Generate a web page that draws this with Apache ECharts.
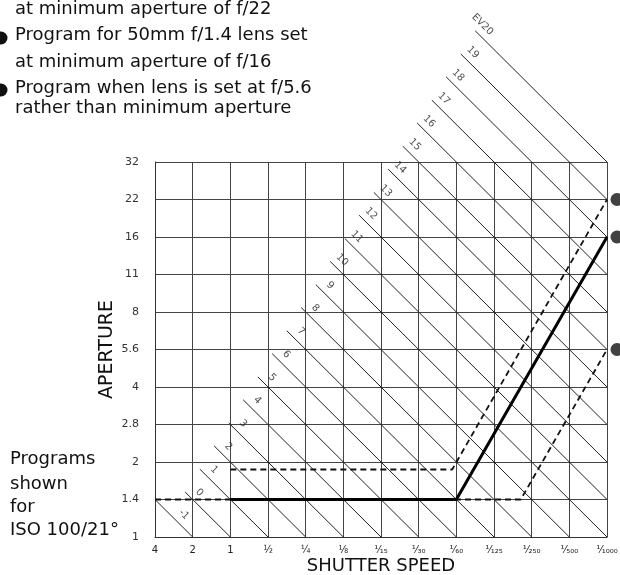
<!DOCTYPE html>
<html>
<head>
<meta charset="utf-8">
<script src="https://cdn.jsdelivr.net/npm/echarts@6/dist/echarts.min.js"></script>
<style>
  html, body { margin: 0; padding: 0; background: #fff; }
  #chart { width: 620px; height: 575px; }
</style>
</head>
<body>
<div id="chart"></div>
<script>
// shutter speeds (x) and f-stops (y), one grid step = one stop
var shutterTicks = ['4', '2', '1', '½', '¼', '⅛', '¹⁄₁₅', '¹⁄₃₀', '¹⁄₆₀', '¹⁄₁₂₅', '¹⁄₂₅₀', '¹⁄₅₀₀', '¹⁄₁₀₀₀'];
var apertureTicks = ['1', '1.4', '2', '2.8', '4', '5.6', '8', '11', '16', '22', '32'];

// EV lines (x = shutter step, y = aperture step)
var evNames  = ['-1', '0', '1', '2', '3', '4', '5', '6', '7', '8', '9', '10',
                '11', '12', '13', '14', '15', '16', '17', '18', '19', 'EV20'];
var evStartX = [0, 0.80, 1.19, 1.57, 1.96, 2.34, 2.73, 3.11, 3.50, 3.88, 4.27, 4.65,
                5.04, 5.42, 5.81, 6.19, 6.58, 6.96, 7.35, 7.73, 8.12, 8.50];
var evStartY = [1, 1.20, 1.81, 2.43, 3.04, 3.66, 4.27, 4.89, 5.50, 6.12, 6.73, 7.35,
                7.96, 8.58, 9.19, 9.81, 10.42, 11.04, 11.65, 12.27, 12.88, 13.50];
var evEndX   = [1, 2, 3, 4, 5, 6, 7, 8, 9, 10, 11, 12,
                12, 12, 12, 12, 12, 12, 12, 12, 12, 12];
var evEndY   = [0, 0, 0, 0, 0, 0, 0, 0, 0, 0, 0, 0,
                1, 2, 3, 4, 5, 6, 7, 8, 9, 10];
var evLabelX = [0.42, 0.80, 1.19, 1.57, 1.96, 2.34, 2.73, 3.11, 3.50, 3.88, 4.27, 4.65,
                5.04, 5.42, 5.81, 6.19, 6.58, 6.96, 7.35, 7.73, 8.12, 8.50];
var evLabelY = [0.58, 1.20, 1.81, 2.43, 3.04, 3.66, 4.27, 4.89, 5.50, 6.12, 6.73, 7.35,
                7.96, 8.58, 9.19, 9.81, 10.42, 11.04, 11.65, 12.27, 12.88, 13.50];

// programs
var progA = [[2, 1.8], [7.89, 1.8], [12, 9]];   // f/22, dashed
var progB = [[2, 1], [8, 1], [12, 8]];          // 50mm f/1.4 at f/16, solid
var progC = [[0, 1], [9.71, 1], [12, 5]];       // set at f/5.6, dashed
var progMarks = [[12, 9, 'a'], [12, 8, 'b'], [12, 5, 'c']];

var FONT = 'DejaVu Sans';

var series = [];
for (var i = 0; i < evNames.length; i++) {
    series.push({
        type: 'line',
        data: [[evStartX[i], evStartY[i]], [evEndX[i], evEndY[i]]],
        symbol: 'none',
        clip: false,
        silent: true,
        lineStyle: { color: '#222', width: 1 }
    });
}
series.push({
    type: 'scatter',
    clip: false,
    silent: true,
    symbolSize: 1,
    itemStyle: { color: 'rgba(0,0,0,0)' },
    data: evNames.map(function (n, i) { return [evLabelX[i], evLabelY[i], n]; }),
    label: {
        show: true,
        position: [17, 3.5],
        align: 'right',
        verticalAlign: 'middle',
        rotate: -45,
        fontFamily: FONT,
        fontSize: 10,
        color: '#222',
        formatter: function (p) { return p.value[2]; }
    }
});
series.push({
    type: 'line', data: progC, symbol: 'none', clip: false, silent: true,
    lineStyle: { color: '#111', width: 1.8, type: [6, 4] }
});
series.push({
    type: 'line', data: progA, symbol: 'none', clip: false, silent: true,
    lineStyle: { color: '#111', width: 1.8, type: [6, 4] }
});
series.push({
    type: 'line', data: progB, symbol: 'none', clip: false, silent: true,
    lineStyle: { color: '#000', width: 3 }
});
series.push({
    type: 'scatter', clip: false, silent: true,
    symbol: 'circle', symbolSize: 13, symbolOffset: [10, 0],
    itemStyle: { color: '#111' },
    data: progMarks,
    label: {
        show: true, position: 'inside', offset: [10, 0],
        fontFamily: FONT, fontSize: 9, fontWeight: 'bold', color: '#fff',
        formatter: function (p) { return p.value[2]; }
    }
});

var chart = echarts.init(document.getElementById('chart'));
chart.setOption({
    animation: false,
    backgroundColor: '#fff',
    grid: { left: 155, right: 13, top: 162, bottom: 38, containLabel: false, outerBoundsMode: 'none' },
    xAxis: {
        type: 'value', min: 0, max: 12, interval: 1,
        axisLine: { lineStyle: { color: '#333', width: 1 } },
        axisTick: { show: false },
        splitLine: { show: true, lineStyle: { color: '#444', width: 1 } },
        axisLabel: {
            margin: 8, fontFamily: FONT, fontSize: 10, color: '#222',
            formatter: function (v) { return shutterTicks[Math.round(v)]; }
        },
        name: 'SHUTTER SPEED', nameLocation: 'middle', nameGap: 20, nameMoveOverlap: false,
        nameTextStyle: { fontFamily: FONT, fontSize: 18, color: '#111', verticalAlign: 'top' }
    },
    yAxis: {
        type: 'value', min: 0, max: 10, interval: 1,
        axisLine: { lineStyle: { color: '#333', width: 1 } },
        axisTick: { show: false },
        splitLine: { show: true, lineStyle: { color: '#444', width: 1 } },
        axisLabel: {
            margin: 16, fontFamily: FONT, fontSize: 11, color: '#333',
            formatter: function (v) { return apertureTicks[Math.round(v)]; }
        },
        name: 'APERTURE', nameLocation: 'middle', nameGap: 38, nameRotate: 90, nameMoveOverlap: false,
        nameTextStyle: { fontFamily: FONT, fontSize: 19, color: '#111' }
    },
    graphic: [
        { type: 'circle', shape: { cx: 1, cy: 38, r: 6.5 }, style: { fill: '#111' } },
        { type: 'circle', shape: { cx: 1, cy: 90, r: 6.5 }, style: { fill: '#111' } },
        { type: 'text', left: 15, top: 0, style: { text: 'at minimum aperture of f/22', font: '18px "DejaVu Sans"', fill: '#111' } },
        { type: 'text', left: 15, top: 26, style: { text: 'Program for 50mm f/1.4 lens set', font: '18px "DejaVu Sans"', fill: '#111' } },
        { type: 'text', left: 15, top: 53, style: { text: 'at minimum aperture of f/16', font: '18px "DejaVu Sans"', fill: '#111' } },
        { type: 'text', left: 15, top: 79, style: { text: 'Program when lens is set at f/5.6', font: '18px "DejaVu Sans"', fill: '#111' } },
        { type: 'text', left: 15, top: 99, style: { text: 'rather than minimum aperture', font: '18px "DejaVu Sans"', fill: '#111' } },
        { type: 'text', left: 10, top: 450, style: { text: 'Programs', font: '18px "DejaVu Sans"', fill: '#111' } },
        { type: 'text', left: 10, top: 475, style: { text: 'shown', font: '18px "DejaVu Sans"', fill: '#111' } },
        { type: 'text', left: 10, top: 498, style: { text: 'for', font: '18px "DejaVu Sans"', fill: '#111' } },
        { type: 'text', left: 10, top: 521, style: { text: 'ISO 100/21°', font: '18px "DejaVu Sans"', fill: '#111' } }
    ],
    series: series
});
</script>
</body>
</html>
